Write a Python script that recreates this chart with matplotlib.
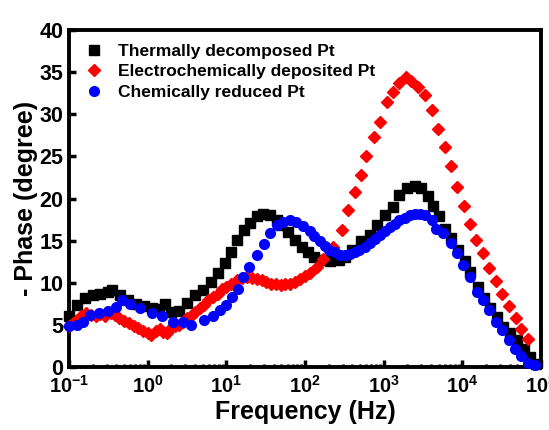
import numpy as np
import matplotlib
matplotlib.use("Agg")
import matplotlib.pyplot as plt
from matplotlib.ticker import FixedLocator, LogLocator, NullFormatter

plt.rcParams['font.family'] = ['Liberation Sans', 'DejaVu Sans']
plt.rcParams['font.weight'] = 'bold'
plt.rcParams['mathtext.fontset'] = 'custom'
plt.rcParams['mathtext.rm'] = 'Liberation Sans:bold'
plt.rcParams['mathtext.bf'] = 'Liberation Sans:bold'
plt.rcParams['mathtext.it'] = 'Liberation Sans:bold'

# log10(frequency) and -phase values
logf_thermal = [-1.0, -0.9, -0.8, -0.7, -0.6, -0.5, -0.45, -0.35, -0.25, -0.15, -0.05, 0.05, 0.15,
                0.22, 0.3, 0.4, 0.5, 0.6, 0.7, 0.8, 0.9, 0.98, 1.06, 1.14, 1.22, 1.3, 1.39, 1.47,
                1.56, 1.64, 1.7, 1.79, 1.87, 1.96, 2.04, 2.12, 2.22, 2.32, 2.43, 2.51, 2.6, 2.71,
                2.82, 2.92, 3.02, 3.12, 3.2, 3.3, 3.4, 3.48, 3.56, 3.63, 3.7, 3.78, 3.86, 3.95,
                4.03, 4.1, 4.2, 4.28, 4.35, 4.44, 4.52, 4.6, 4.69, 4.78, 4.86, 4.94]
phase_thermal = [6.0, 7.4, 8.2, 8.5, 8.7, 8.9, 9.1, 8.5, 7.9, 7.5, 7.2, 7.0, 6.9,
                 7.5, 6.5, 6.6, 7.6, 8.5, 9.1, 10.1, 11.2, 12.3, 13.7, 15.1, 16.3, 17.1, 17.9, 18.2,
                 18.0, 17.4, 16.8, 16.0, 15.1, 14.3, 13.6, 13.0, 12.7, 12.6, 12.7, 13.1, 13.9, 14.9,
                 15.7, 16.8, 18.0, 19.0, 20.4, 21.2, 21.5, 21.3, 20.3, 19.1, 17.9, 16.4, 15.3, 13.9,
                 12.6, 11.3, 9.5, 8.2, 7.0, 5.9, 4.8, 4.0, 3.2, 2.1, 1.2, 0.3]

logf_electro = [-1.0, -0.95, -0.9, -0.85, -0.78, -0.72, -0.66, -0.6, -0.54, -0.47, -0.42, -0.36,
                -0.3, -0.24, -0.18, -0.12, -0.06, 0.0, 0.04, 0.1, 0.16, 0.2, 0.25, 0.3, 0.35, 0.4,
                0.45, 0.5, 0.55, 0.6, 0.66, 0.71, 0.77, 0.83, 0.89, 0.95, 1.0, 1.06, 1.13, 1.2,
                1.26, 1.33, 1.39, 1.45, 1.51, 1.57, 1.63, 1.69, 1.75, 1.81, 1.87, 1.94, 2.0, 2.06,
                2.15, 2.23, 2.36, 2.47, 2.55, 2.63, 2.71, 2.78, 2.88, 2.95, 3.04, 3.12, 3.2, 3.28,
                3.35, 3.44, 3.52, 3.61, 3.69, 3.78, 3.86, 3.93, 4.02, 4.1, 4.18, 4.26, 4.34, 4.43,
                4.51, 4.59, 4.68, 4.75, 4.84]
phase_electro = [4.9, 5.2, 5.6, 6.0, 6.4, 6.2, 6.1, 6.3, 6.1, 6.4, 6.2, 5.8,
                 5.5, 5.2, 4.9, 4.6, 4.3, 4.0, 3.8, 4.3, 4.5, 4.1, 4.0, 4.6, 4.9, 5.0,
                 5.3, 5.8, 6.1, 6.5, 7.0, 7.4, 7.9, 8.3, 8.7, 9.2, 9.5, 9.9, 10.3, 10.6,
                 10.7, 10.6, 10.5, 10.3, 10.1, 9.9, 9.8, 9.7, 9.8, 9.9, 10.1, 10.4, 10.8, 11.2,
                 11.9, 12.8, 14.3, 16.3, 18.6, 20.8, 22.8, 25.1, 27.3, 29.1, 31.5, 32.7, 33.7, 34.4,
                 34.0, 33.2, 32.3, 30.5, 28.3, 26.1, 23.8, 21.4, 19.1, 17.0, 15.1, 13.5, 11.7, 10.2,
                 8.7, 7.2, 5.8, 4.5, 3.3]

logf_chem = [-1.0, -0.9, -0.82, -0.73, -0.62, -0.5, -0.4, -0.33, -0.23, -0.1, 0.05, 0.18, 0.32,
             0.45, 0.55, 0.71, 0.83, 0.92, 1.0, 1.07, 1.15, 1.21, 1.29, 1.39, 1.48, 1.55, 1.64,
             1.72, 1.81, 1.89, 1.98, 2.06, 2.12, 2.19, 2.25, 2.31, 2.38, 2.44, 2.51, 2.57, 2.63,
             2.69, 2.76, 2.82, 2.89, 2.95, 3.02, 3.08, 3.14, 3.2, 3.27, 3.33, 3.4, 3.46, 3.52,
             3.61, 3.67, 3.75, 3.85, 3.93, 4.01, 4.1, 4.19, 4.26, 4.34, 4.43, 4.51, 4.59, 4.67,
             4.75, 4.84, 4.93]
phase_chem = [4.9, 5.0, 5.3, 6.2, 6.4, 6.6, 7.1, 7.9, 7.5, 7.0, 6.4, 6.0, 5.3,
              5.4, 5.0, 5.6, 6.0, 6.8, 7.4, 8.3, 9.3, 10.7, 11.9, 13.3, 14.6, 15.9, 16.8,
              17.2, 17.4, 17.2, 16.7, 16.2, 15.5, 14.9, 14.4, 13.9, 13.6, 13.3, 13.3, 13.4, 13.6,
              13.9, 14.3, 14.7, 15.2, 15.7, 16.2, 16.6, 17.0, 17.4, 17.7, 18.0, 18.2, 18.2, 18.0,
              17.4, 16.4, 15.9, 14.7, 13.5, 12.1, 10.7, 8.9, 7.9, 6.8, 5.4, 4.4, 3.2, 2.1,
              1.3, 0.5, 0.2]

fig = plt.figure(figsize=(5.49, 4.30), dpi=100)
ax = fig.add_axes([0.1257, 0.1465, 0.8597, 0.7837])

ax.plot(10 ** np.array(logf_thermal), phase_thermal, 's', color='black', ms=6.5,
        mec='black', label='Thermally decomposed Pt', clip_on=False, zorder=3)
ax.plot(10 ** np.array(logf_electro), phase_electro, 'D', color='red', ms=6.5,
        mec='red', label='Electrochemically deposited Pt', clip_on=False, zorder=4)
ax.plot(10 ** np.array(logf_chem), phase_chem, 'o', color='blue', ms=7,
        mec='blue', label='Chemically reduced Pt', clip_on=False, zorder=5)

ax.set_xscale('log')
ax.set_xlim(0.1, 1e5)
ax.set_ylim(0, 40)

decades = [-1, 0, 1, 2, 3, 4, 5]
ax.xaxis.set_major_locator(FixedLocator([10.0 ** d for d in decades]))
ax.set_xticklabels([r'$\mathbf{10^{%d}}$' % d for d in decades])
ax.xaxis.set_minor_locator(LogLocator(base=10, subs=np.arange(2, 10), numticks=20))
ax.xaxis.set_minor_formatter(NullFormatter())
ax.set_yticks([0, 5, 10, 15, 20, 25, 30, 35, 40])

for s in ax.spines.values():
    s.set_linewidth(2.8)
ax.tick_params(which='major', direction='in', length=5, width=2.5, labelsize=14.5,
               top=False, right=False, pad=6)
ax.tick_params(axis='y', which='major', labelsize=15.5, pad=4)
ax.tick_params(which='minor', direction='in', length=2.5, width=2, top=False, right=False)
for lab in ax.get_yticklabels():
    lab.set_fontweight('bold')

ax.set_xlabel('Frequency (Hz)', fontsize=18, fontweight='bold', labelpad=2)
ax.set_ylabel('- Phase (degree)', fontsize=18, fontweight='bold', labelpad=1)

leg = ax.legend(loc='upper left', frameon=False, handletextpad=0.7,
                borderaxespad=0.3, borderpad=0.5, labelspacing=0.3, handlelength=1.3,
                prop={'weight': 'bold', 'size': 12.5})

fig.savefig('out.png', dpi=100)
